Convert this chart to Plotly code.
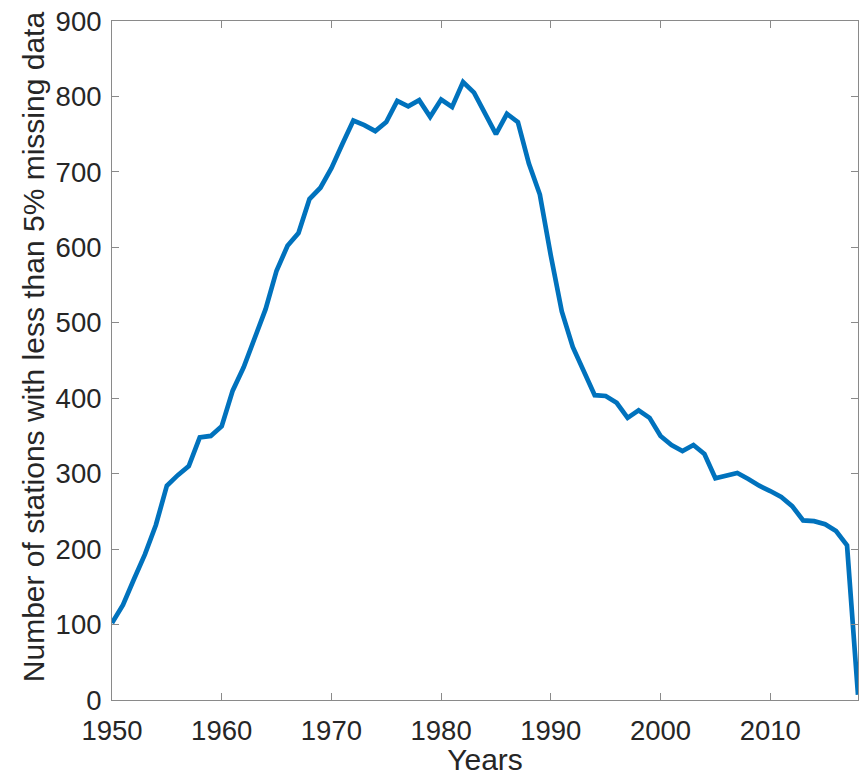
import plotly.graph_objects as go

# Year of record
years = list(range(1950, 2019))

# Number of stations with less than 5% missing data in each year
stations = [
    102, 126, 160, 193, 232, 284, 298, 310, 348, 350,   # 1950-1959
    363, 410, 441, 481, 518, 569, 602, 619, 664, 679,   # 1960-1969
    705, 737, 768, 762, 754, 766, 794, 787, 795, 773,   # 1970-1979
    796, 786, 819, 805, 777, 750, 777, 766, 711, 670,   # 1980-1989
    589, 515, 468, 437, 404, 403, 394, 374, 384, 374,   # 1990-1999
    350, 338, 330, 338, 326, 294, 298, 301, 293, 284,   # 2000-2009
    277, 269, 257, 238, 237, 233, 224, 205, 7,          # 2010-2018
]

x_ticks = [1950, 1960, 1970, 1980, 1990, 2000, 2010]
y_ticks = [0, 100, 200, 300, 400, 500, 600, 700, 800, 900]

FONT = "Liberation Sans, Arial, Helvetica, sans-serif"
TEXT = "#262626"
AXIS = "#8a8a8a"

fig = go.Figure(
    go.Scatter(
        x=years,
        y=stations,
        mode="lines",
        line=dict(color="#0072BD", width=4.7),
        hoverinfo="x+y",
    )
)

axis_common = dict(
    showgrid=False,
    zeroline=False,
    showline=True,
    linecolor=AXIS,
    linewidth=1,
    mirror="ticks",
    ticks="inside",
    ticklen=7,
    tickwidth=1,
    tickcolor=AXIS,
    tickfont=dict(family=FONT, size=27.5, color=TEXT),
)

fig.update_xaxes(
    range=[1950, 2018],
    tickvals=x_ticks,
    ticktext=[str(t) for t in x_ticks],
    ticklabelstandoff=6,
    title=dict(text="Years", font=dict(family=FONT, size=30, color=TEXT), standoff=3),
    **axis_common,
)
fig.update_yaxes(
    range=[0, 900],
    tickvals=y_ticks,
    ticktext=[str(t) for t in y_ticks],
    ticklabelstandoff=4,
    **axis_common,
)

fig.add_annotation(
    text="Number of stations with less than 5% missing data",
    textangle=-90,
    xref="paper",
    yref="paper",
    x=(33 - 112) / 747,
    y=(701 - 345.5) / 684,
    xanchor="center",
    yanchor="middle",
    showarrow=False,
    font=dict(family=FONT, size=30, color=TEXT),
)

fig.update_layout(
    width=865,
    height=776,
    margin=dict(l=112, r=6, t=17, b=75),
    paper_bgcolor="white",
    plot_bgcolor="white",
    showlegend=False,
)

fig.write_html("out.html")
